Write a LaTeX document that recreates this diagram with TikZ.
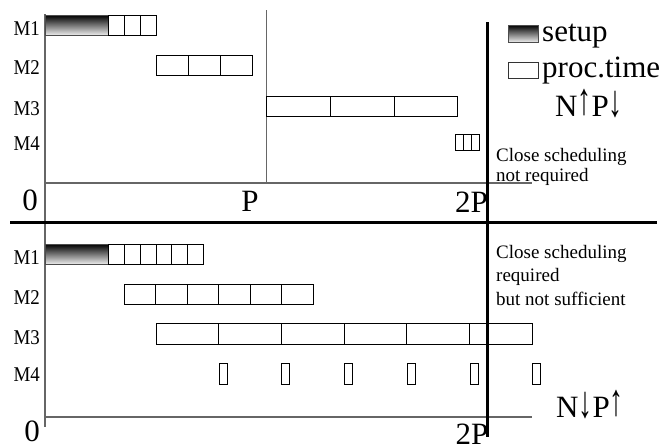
\documentclass[tikz,border=0pt]{standalone}
\usepackage{fontspec}
\setmainfont{Liberation Serif}
\newfontfamily\narrowserif[FakeStretch=0.9]{Liberation Serif}
\newcommand\upar{\raisebox{0.1ex}{\scalebox{0.9}[1.45]{↑}}}
\newcommand\dnar{\raisebox{-0.05ex}{\scalebox{0.9}[1.45]{↓}}}

\begin{document}
\begin{tikzpicture}[x=1pt, y=-1pt,
    job/.style={draw=black, line width=0.8pt},
    setupjob/.style={draw=black!70, line width=0.8pt, top color=black, bottom color=black!8},
    axis/.style={draw=black!60, line width=1.1pt},
    mlabel/.style={font=\narrowserif\fontsize{21}{21}\selectfont, anchor=base east, inner sep=0pt},
    biglabel/.style={font=\fontsize{31}{31}\selectfont, inner sep=0pt},
    note/.style={font=\fontsize{19}{20}\selectfont, align=left, anchor=base west, inner sep=0pt}]

  \useasboundingbox (0,0) rectangle (669,445);

  % ================= geometry =================
  \def\xo{45}                      % time origin
  \def\xP{266}                     % time P
  \def\xPP{487}                    % time 2P

  % ================= frame lines =================
  \draw[axis] (\xo,14) -- (\xo,427);                 % left axis, both charts
  \draw[axis] (\xo,183) -- (532,183);                % upper time axis
  \draw[axis] (\xo,417) -- (532,417);                % lower time axis
  \draw[black!60, line width=0.9pt] (\xP,10) -- (\xP,183);
  \draw[black, line width=3.5pt] (10,222.5) -- (657,222.5);   % separator
  \draw[black, line width=3pt] (\xPP,22) -- (\xPP,437);       % 2P line

  % ================= upper chart: N up, P down =================
  \node[mlabel] (uM1) at (40,35)  {M1};
  \node[mlabel] (uM2) at (40,74)  {M2};
  \node[mlabel] (uM3) at (40,115) {M3};
  \node[mlabel] (uM4) at (40,150) {M4};

  % M1
  \draw[setupjob] (\xo,15) rectangle (108.5,35);
  \foreach \a/\b in {108.5/124.3, 124.3/140.1, 140.1/156} \draw[job] (\a,15) rectangle (\b,35);
  % M2
  \foreach \a/\b in {156/188, 188/220, 220/252} \draw[job] (\a,55) rectangle (\b,75);
  % M3
  \foreach \a/\b in {266/330.5, 330.5/394, 394/457} \draw[job] (\a,96) rectangle (\b,116);
  % M4
  \foreach \a/\b in {455/463, 463/471, 471/479} \draw[job] (\a,134) rectangle (\b,150);

  \node[biglabel, anchor=base] (u0)  at (30,210)  {0};
  \node[biglabel, anchor=base] (uP)  at (250,211) {P};
  \node[biglabel, anchor=base east] (u2P) at (488,212) {2P};

  % legend
  \draw[setupjob] (508,25) rectangle (538,42);
  \node[biglabel, anchor=base west] (lsetup) at (542,41) {setup};
  \draw[job, draw=black!80] (508,62) rectangle (538,78);
  \node[biglabel, anchor=base west] (lproc) at (542,77) {proc.time};
  \node[biglabel, anchor=base] (uNP) at (589,116) {N\upar P\dnar};

  \node[note] (unote) at (496,181) {Close scheduling\\not required};

  % ================= lower chart: N down, P up =================
  \node[mlabel] (lM1) at (40,264) {M1};
  \node[mlabel] (lM2) at (40,304) {M2};
  \node[mlabel] (lM3) at (40,344) {M3};
  \node[mlabel] (lM4) at (40,381) {M4};

  % M1
  \draw[setupjob] (\xo,244) rectangle (108.5,264);
  \foreach \a in {108.5, 124.3, 140.1, 155.9, 171.7, 187.5}
    \draw[job] (\a,244) rectangle ({\a+15.8},264);
  % M2
  \foreach \a in {124, 155.5, 187, 218.5, 250, 281.5}
    \draw[job] (\a,284) rectangle ({\a+31.5},304);
  % M3
  \foreach \a in {156, 218.7, 281.3, 344, 406.7, 469.3}
    \draw[job] (\a,323) rectangle ({\a+62.7},344);
  % M4
  \foreach \a in {219, 281.5, 344, 407, 470, 532}
    \draw[job] (\a,363) rectangle ({\a+8},384);

  \node[biglabel, anchor=base] (l0)  at (32,441) {0};
  \node[biglabel, anchor=base] (l2P) at (472,444) {2P};
  \node[biglabel, anchor=base] (lNP) at (590,417) {N\dnar P\upar};

  \node[note, font=\fontsize{19}{23.5}\selectfont] (lnote) at (496,305)
      {Close scheduling\\required\\but not sufficient};

\end{tikzpicture}
\end{document}
